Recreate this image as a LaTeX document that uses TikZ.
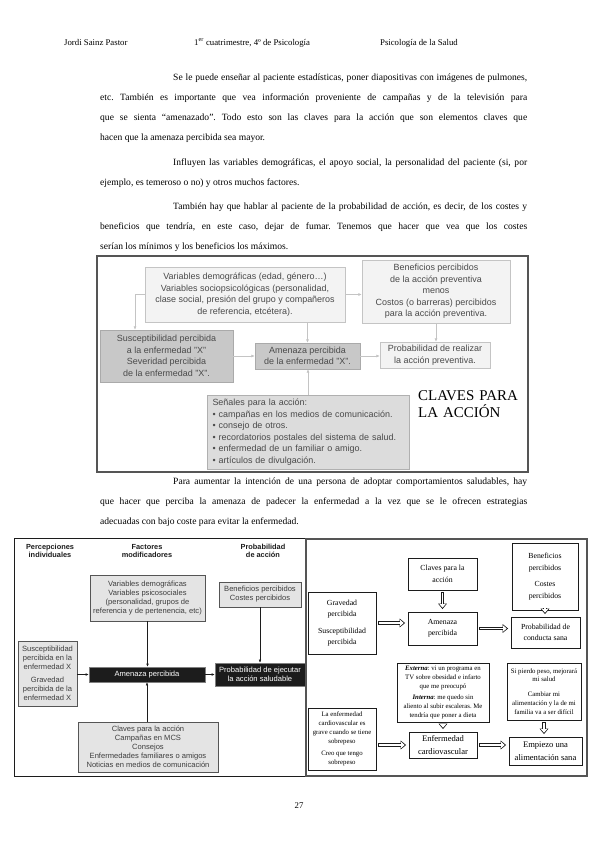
\documentclass[tikz,border=0pt]{standalone}
\usepackage{fontspec}
\setmainfont{Liberation Serif}
\setsansfont{Liberation Sans}
\usetikzlibrary{arrows.meta}
\frenchspacing
\definecolor{ink}{HTML}{1C1C1C}
\definecolor{greytext}{HTML}{4A4A4A}
\definecolor{paleline}{HTML}{C4C4C4}
\definecolor{palefill}{HTML}{F3F3F3}
\definecolor{midfill}{HTML}{C8C8C8}
\definecolor{softfill}{HTML}{DCDCDC}
\definecolor{boxfill}{HTML}{E4E4E4}
\definecolor{framegrey}{HTML}{555555}
\newcommand\bodyfont{\fontsize{9.6}{20.4}\selectfont
  \tolerance=10000\relax\hbadness=10000\relax\hyphenpenalty=10000\relax}
\tikzset{>=Latex,
  every node/.style={inner sep=1pt},
  hdr/.style={font=\fontsize{8.8}{10}\selectfont,anchor=base west},
  bodytext/.style={anchor=base west,inner sep=0pt,text width=427bp,align=justify,font=\bodyfont},
  uframe/.style={draw=framegrey,line width=1.1pt},
  ubox/.style={draw=paleline,fill=palefill,text=greytext,align=center,
    font=\sffamily\fontsize{9}{11.6}\selectfont},
  udark/.style={ubox,fill=midfill,draw=midfill!85!black},
  uconn/.style={draw=paleline,line width=.6pt,-{Latex[length=3.5pt,width=3pt]}},
  lframe/.style={draw=ink,line width=.6pt},
  lhead/.style={font=\sffamily\bfseries\fontsize{7.4}{8.6}\selectfont,align=center,text=ink},
  lbox/.style={draw=ink!75,fill=boxfill,line width=.6pt,text=ink!85,align=center,inner sep=0pt,
    font=\sffamily\fontsize{7.6}{9}\selectfont},
  lblack/.style={lbox,fill=ink,draw=gray,text=white},
  lconn/.style={draw=ink,line width=.5pt,-{Latex[length=3pt,width=2.6pt]}},
  rframe/.style={draw=framegrey,line width=1.6pt},
  rbox/.style={draw=ink,fill=white,line width=.8pt,align=center,inner sep=0pt,
    font=\fontsize{7.8}{11.5}\selectfont},
  rsmall/.style={rbox,font=\fontsize{6.8}{8.9}\selectfont},
  rbig/.style={rbox,font=\fontsize{8.6}{12.6}\selectfont},
  harrow/.style={draw=ink,line width=3.4pt,-{Triangle[length=5.5pt,width=8.6pt]},
    shorten <=2bp,shorten >=2.5bp,
    postaction={draw=white,line width=1.9pt,-{Triangle[length=3.5pt,width=5.8pt]},
      shorten <=2.8bp,shorten >=3.9bp}}}
\begin{document}
\begin{tikzpicture}[x=1bp,y=-1bp]
\fill[white] (0,0) rectangle (599,848);
% cabecera
\node[hdr] (hdrL) at (63,45) {Jordi Sainz Pastor};
\node[hdr] (hdrC) at (193,45) {1\textsuperscript{er} cuatrimestre, 4º de Psicología};
\node[hdr,anchor=base east] (hdrR) at (459,45) {Psicología de la Salud};
% texto
\node[bodytext] (parA) at (100,80) {\hspace*{73bp}Se le puede enseñar al paciente estadísticas, poner diapositivas con imágenes de pulmones, \linebreak etc. También es importante que vea información proveniente de campañas y de la televisión para \linebreak que se sienta “amenazado”. Todo esto son las claves para la acción que son elementos claves que \linebreak hacen que la amenaza percibida sea mayor.};
\node[bodytext] (parB) at (100,165) {\hspace*{73bp}Influyen las variables demográficas, el apoyo social, la personalidad del paciente (si, por \linebreak ejemplo, es temeroso o no) y otros muchos factores.};
\node[bodytext] (parC) at (100,209) {\hspace*{73bp}También hay que hablar al paciente de la probabilidad de acción, es decir, de los costes y \linebreak beneficios que tendría, en este caso, dejar de fumar. Tenemos que hacer que vea que los costes \linebreak serían los mínimos y los beneficios los máximos.};
% primer esquema
\draw[uframe] (97,256) rectangle (528,472);
\node[ubox,minimum width=200bp,minimum height=55bp] (varU) at (245,294.5) {Variables demográficas (edad, género\dots)\\Variables sociopsicológicas (personalidad,\\clase social, presión del grupo y compañeros\\de referencia, etcétera).};
\node[ubox,minimum width=148bp,minimum height=63bp] (benU) at (436,291.5) {Beneficios percibidos\\de la acción preventiva\\menos\\Costos (o barreras) percibidos\\para la acción preventiva.};
\node[udark,minimum width=133bp,minimum height=52bp] (susU) at (166.5,356) {Susceptibilidad percibida\\a la enfermedad "X"\\Severidad percibida\\de la enfermedad "X".};
\node[udark,minimum width=105bp,minimum height=26bp] (amenU) at (307.5,356) {Amenaza percibida\\de la enfermedad "X".};
\node[ubox,minimum width=110bp,minimum height=26bp] (probU) at (435,355) {Probabilidad de realizar\\la acción preventiva.};
\node[ubox,fill=softfill,draw=paleline!90!black,align=left,text width=191bp,inner xsep=5.5bp,minimum height=74bp] (senU) at (308,432) {Señales para la acción:\\• campañas en los medios de comunicación.\\• consejo de otros.\\• recordatorios postales del sistema de salud.\\• enfermedad de un familiar o amigo.\\• artículos de divulgación.};
\node[anchor=base west,inner sep=0pt,text width=112bp,align=left,font=\fontsize{15}{18}\selectfont] (clavesU) at (418,400) {CLAVES PARA\\LA ACCIÓN};
\draw[uconn] (varU.west) -| ([xshift=-31.5bp]susU.north);
\draw[uconn] (varU.east) -- (varU.east -| benU.west);
\draw[uconn] (varU.south -| amenU.north) -- (amenU.north);
\draw[uconn] (susU.east) -- (amenU.west);
\draw[uconn] (amenU.east) -- (amenU.east -| probU.west);
\draw[uconn] (benU.south) -- (benU.south |- probU.north);
\draw[uconn] (senU.north) -- (senU.north |- amenU.south);
% texto
\node[bodytext] (parD) at (100,484) {\hspace*{73bp}Para aumentar la intención de una persona de adoptar comportamientos saludables, hay \linebreak que hacer que perciba la amenaza de padecer la enfermedad a la vez que se le ofrecen estrategias \linebreak adecuadas con bajo coste para evitar la enfermedad.};
% segundo esquema, izquierda
\draw[lframe] (14,538) rectangle (306,776);
\node[lhead] (hdP) at (50,551) {Percepciones\\individuales};
\node[lhead] (hdF) at (147,551) {Factores\\modificadores};
\node[lhead] (hdA) at (263,551) {Probabilidad\\de acción};
\node[lbox,minimum width=115bp,minimum height=46bp] (varL) at (147.5,598) {Variables demográficas\\Variables psicosociales\\(personalidad, grupos de\\referencia y de pertenencia, etc)};
\node[lbox,minimum width=82bp,minimum height=25bp] (benL) at (260,594.5) {Beneficios percibidos\\Costes percibidos};
\node[lbox,minimum width=59bp,minimum height=65bp] (susL) at (47.5,673.5) {Susceptibilidad\\percibida en la\\enfermedad X\\[4pt]Gravedad\\percibida de la\\enfermedad X};
\node[lblack,minimum width=116bp,minimum height=15bp] (amenL) at (147,674.5) {Amenaza percibida};
\node[lblack,minimum width=90bp,minimum height=23bp] (probL) at (260,674.5) {Probabilidad de ejecutar\\la acción saludable};
\node[lbox,minimum width=140bp,minimum height=50bp] (clvL) at (148,747) {Claves para la acción\\Campañas en MCS\\Consejos\\Enfermedades familiares o amigos\\Noticias en medios de comunicación};
\draw[lconn] (varL.south) -- (varL.south |- amenL.north);
\draw[lconn] (benL.south) -- (probL.north);
\draw[lconn] (susL.east |- amenL.west) -- (amenL.west);
\draw[lconn] (amenL.east) -- (probL.west);
\draw[lconn] (clvL.north -| amenL.south) -- (amenL.south);
% segundo esquema, derecha
\draw[rframe] (306,539) rectangle (587,776);
\node[rbox,minimum width=69bp,minimum height=32bp] (clvR) at (442.5,574) {Claves para la\\acción};
\node[rbox,minimum width=66bp,minimum height=67bp] (benR) at (545,576.5) {Beneficios\\percibidos\\[5pt]Costes\\percibidos};
\node[rbox,minimum width=68bp,minimum height=62bp] (gravR) at (342,623) {Gravedad\\percibida\\[5pt]Susceptibilidad\\percibida};
\node[rbox,minimum width=69bp,minimum height=33bp] (amenR) at (442.5,628.5) {Amenaza\\percibida};
\node[rbox,minimum width=69bp,minimum height=31bp] (probR) at (545.5,632.5) {Probabilidad de\\conducta sana};
\node[rsmall,minimum width=92bp,minimum height=59bp] (extR) at (443,692.5) {\textbf{\textit{Externa}}: vi un programa en\\TV sobre obesidad e infarto\\que me preocupó\\[3pt]\textbf{\textit{Interna}}: me quedo sin\\aliento al subir escaleras. Me\\tendría que poner a dieta};
\node[rsmall,minimum width=74bp,minimum height=57bp] (siR) at (544,691.5) {Si pierdo peso, mejorará\\mi salud\\[6pt]Cambiar mi\\alimentación y la de mi\\familia va a ser difícil};
\node[rsmall,minimum width=68bp,minimum height=62bp] (enfR) at (342,739) {La enfermedad\\cardiovascular es\\grave cuando se tiene\\sobrepeso\\[4pt]Creo que tengo\\sobrepeso};
\node[rbig,minimum width=68bp,minimum height=26bp] (cardR) at (443,745) {Enfermedad\\cardiovascular};
\node[rbig,minimum width=73bp,minimum height=28bp] (empR) at (545.5,751) {Empiezo una\\alimentación sana};
\draw[harrow] (gravR.east) -- (gravR.east -| amenR.west);
\draw[harrow] (amenR.east) -- (amenR.east -| probR.west);
\draw[harrow] (clvR.south) -- (amenR.north);
\draw[harrow] (benR.south) -- (benR.south |- probR.north);
\draw[harrow] (extR.south) -- (extR.south |- cardR.north);
\draw[harrow] (siR.south) -- (siR.south |- empR.north);
\draw[harrow] (enfR.east |- cardR.west) -- (cardR.west);
\draw[harrow] (cardR.east) -- (cardR.east -| empR.west);
% pie
\node[font=\fontsize{8.8}{10}\selectfont,anchor=base] (pageno) at (299,808) {27};
\end{tikzpicture}
\end{document}
